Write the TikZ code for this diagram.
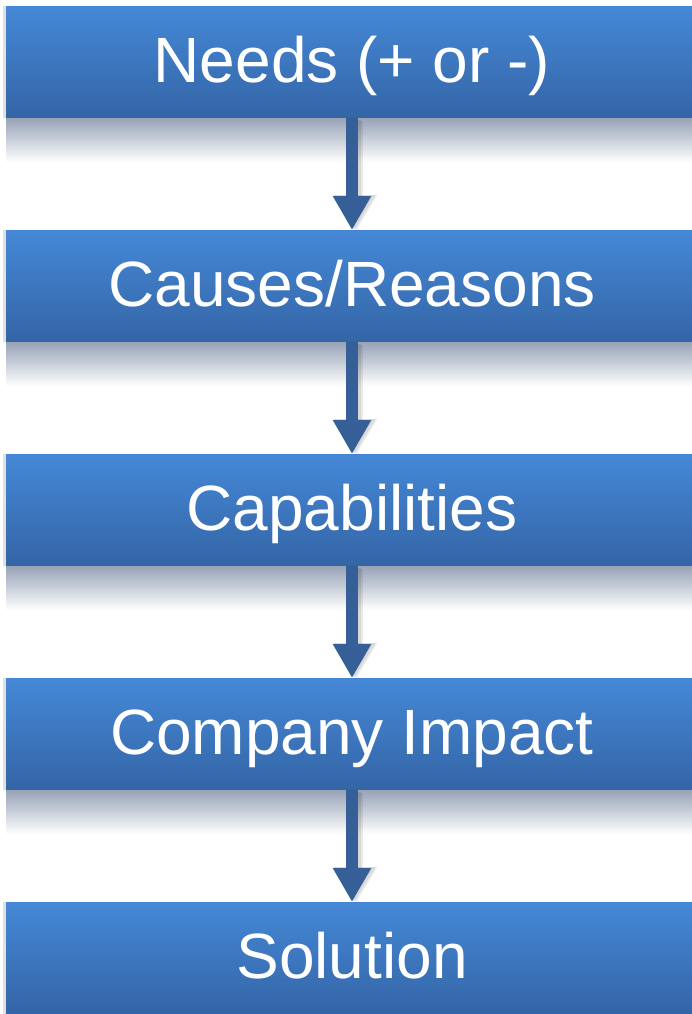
\documentclass[tikz,border=0pt]{standalone}
\usepackage{fontspec}
\setmainfont{Liberation Sans}
\usetikzlibrary{arrows.meta}
\definecolor{boxtop}{RGB}{69,136,214}
\definecolor{boxbot}{RGB}{52,101,166}
\definecolor{arrowc}{RGB}{53,95,150}
\definecolor{reflA}{RGB}{150,162,182}
\definecolor{reflB}{RGB}{212,222,235}
\tikzset{
  stepbox/.style={rectangle, anchor=north, minimum width=692pt, inner sep=0pt,
    text height=76.5pt, text depth=35pt, top color=boxtop, bottom color=boxbot,
    draw=none, text=white, font=\fontsize{64}{64}\selectfont},
  flowarrow/.style={draw=arrowc, line width=12pt,
    -{Triangle[width=36pt,length=34pt]}, arrowc},
  arrowshadow/.style={draw=black, opacity=0.08, line width=14pt,
    -{Triangle[width=40pt,length=36pt]}, fill=black},
  reflection/.style={top color=reflA, middle color=reflB, bottom color=white, draw=none}
}
\begin{document}
\begin{tikzpicture}[x=1pt,y=1pt]
\useasboundingbox (0,0) rectangle (691,-1014);
\fill[white] (0,0) rectangle (691,-1014);
% reflections (drawn first)
\foreach \t in {6,230,454,678}{
  \fill[reflection] (6,-\t-111.5) rectangle (698,-\t-111.5-45);
  \fill[black,opacity=0.12] (3,-\t) rectangle (6,-\t-112);
}
\node[stepbox] (b1) at (352,-6) {Needs (+ or -)};
\node[stepbox] (b2) at (352,-230) {Causes/Reasons};
\node[stepbox] (b3) at (352,-454) {Capabilities};
\node[stepbox] (b4) at (352,-678) {Company Impact};
\node[stepbox] (b5) at (352,-902) {Solution};
\fill[black,opacity=0.12] (3,-902) rectangle (6,-1014);
% arrow shadows (soft)
\foreach \a/\b in {b1/b2,b2/b3,b3/b4,b4/b5}{
  \draw[arrowshadow] ([xshift=4pt,yshift=-3pt]\a.south) -- ([xshift=4pt,yshift=-1pt]\b.north);
  \draw[arrowshadow] ([xshift=2pt,yshift=-2pt]\a.south) -- ([xshift=2pt,yshift=-1pt]\b.north);
}
% arrows
\draw[flowarrow] (b1.south) -- (b2.north);
\draw[flowarrow] (b2.south) -- (b3.north);
\draw[flowarrow] (b3.south) -- (b4.north);
\draw[flowarrow] (b4.south) -- (b5.north);
\end{tikzpicture}
\end{document}
